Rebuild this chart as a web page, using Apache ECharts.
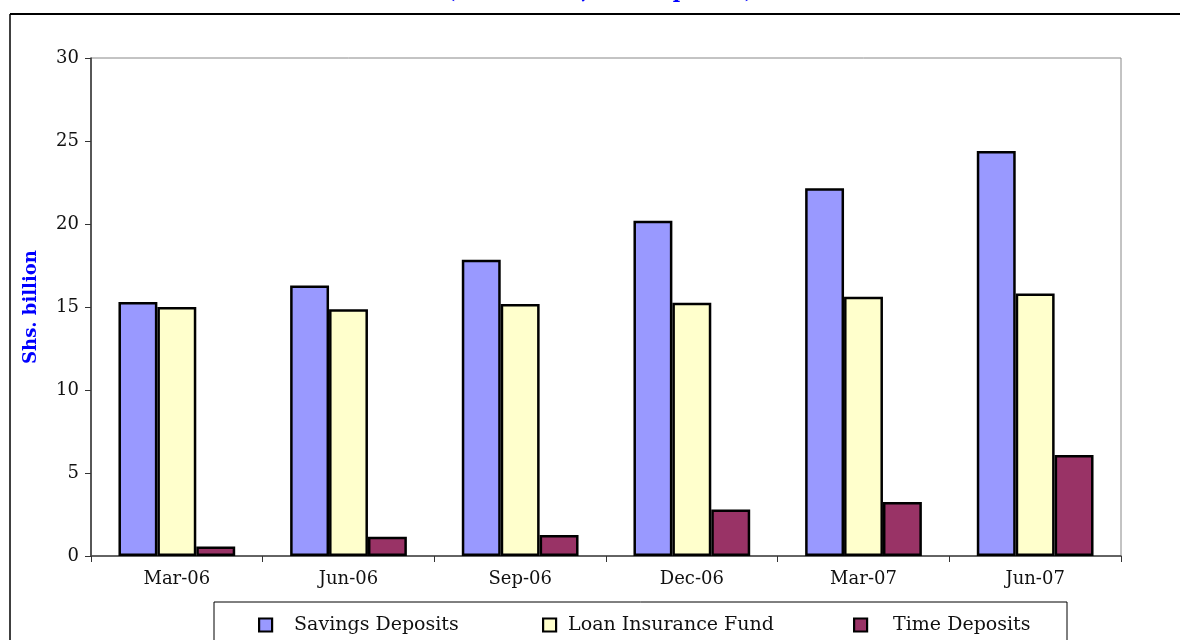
<!DOCTYPE html>
<html>
<head>
<meta charset="utf-8">
<style>
  html, body { margin: 0; padding: 0; background: #fff; }
  #chart { width: 1180px; height: 640px; }
</style>
<script src="https://cdn.jsdelivr.net/npm/echarts@6/dist/echarts.min.js"></script>
</head>
<body>
<div id="chart"></div>
<script>
// Quarter-end balances, Shs. billion
const quarters = ['Mar-06', 'Jun-06', 'Sep-06', 'Dec-06', 'Mar-07', 'Jun-07'];
const savingsDeposits = [15.3, 16.3, 17.85, 20.2, 22.15, 24.4];
const loanInsuranceFund = [15.0, 14.87, 15.18, 15.26, 15.62, 15.82];
const timeDeposits = [0.57, 1.16, 1.26, 2.8, 3.25, 6.08];
const yTicks = [0, 5, 10, 15, 20, 25, 30];
const seriesNames = ['Savings Deposits', 'Loan Insurance Fund', 'Time Deposits'];
const seriesColors = ['#9999ff', '#ffffcc', '#993366'];

const FONT = '"DejaVu Serif", "Liberation Serif", serif';
const chart = echarts.init(document.getElementById('chart'), null, { renderer: 'canvas' });

function barSeries(i, data) {
  return {
    name: seriesNames[i],
    type: 'bar',
    data: data,
    barGap: '0%',
    barCategoryGap: '32%',
    itemStyle: { color: seriesColors[i], borderColor: '#000', borderWidth: 2.5 },
    emphasis: { disabled: true }
  };
}

// one legend block per series so each entry sits at its own column
function legendEntry(i, left, textPad) {
  return {
    left: left, top: 615,
    padding: 0,
    itemWidth: 13, itemHeight: 13,
    icon: 'rect',
    data: [seriesNames[i]],
    textStyle: { fontFamily: FONT, fontSize: 19, lineHeight: 20, color: '#111', padding: [0, 0, 0, textPad] },
    itemStyle: { borderColor: '#000', borderWidth: 2.2 },
    selectedMode: false
  };
}

chart.setOption({
  animation: false,
  backgroundColor: '#fff',
  textStyle: { fontFamily: FONT },
  grid: {
    left: 91, right: 59, top: 58, bottom: 84,
    show: true, borderColor: '#888', borderWidth: 1, backgroundColor: 'transparent'
  },
  legend: [
    legendEntry(0, 258, 17),
    legendEntry(1, 542, 7),
    legendEntry(2, 853, 21)
  ],
  xAxis: {
    type: 'category',
    data: quarters,
    axisLine: { lineStyle: { color: '#444', width: 1.5 } },
    axisTick: { show: true, length: 6, lineStyle: { color: '#333' } },
    axisLabel: { fontFamily: FONT, fontSize: 18, color: '#111', margin: 14 }
  },
  yAxis: {
    type: 'value',
    min: 0, max: 30, interval: 5,
    name: 'Shs. billion',
    nameLocation: 'middle',
    nameGap: 51,
    nameTextStyle: { fontFamily: FONT, fontSize: 18, fontWeight: 'bold', color: '#0000ff' },
    axisLine: { show: true, lineStyle: { color: '#333', width: 1.5 } },
    axisTick: { show: true, length: 6, lineStyle: { color: '#333' } },
    axisLabel: {
      fontFamily: FONT, fontSize: 18, color: '#111', margin: 12,
      formatter: function (v) { return yTicks.indexOf(v) >= 0 ? String(v) : ''; }
    },
    splitLine: { show: false }
  },
  graphic: [
    // outer chart frame (top and left edges)
    { type: 'line', silent: true, shape: { x1: 10, y1: 14, x2: 1180, y2: 14 }, style: { stroke: '#000', lineWidth: 2 } },
    { type: 'line', silent: true, shape: { x1: 10, y1: 14, x2: 10, y2: 640 }, style: { stroke: '#000', lineWidth: 1.5 } },
    // legend frame
    { type: 'rect', silent: true, z: -1, shape: { x: 214, y: 602, width: 853, height: 60 }, style: { fill: '#fff', stroke: '#000', lineWidth: 1 } },
    // chart heading, mostly above the page edge
    { type: 'text', silent: true, x: 600, y: 2.5,
      style: { text: '(Shs. billion, end of period)', fill: '#0000ff', font: 'bold 20px ' + FONT, align: 'center', verticalAlign: 'bottom' } }
  ],
  series: [
    barSeries(0, savingsDeposits),
    barSeries(1, loanInsuranceFund),
    barSeries(2, timeDeposits)
  ]
});
</script>
</body>
</html>
